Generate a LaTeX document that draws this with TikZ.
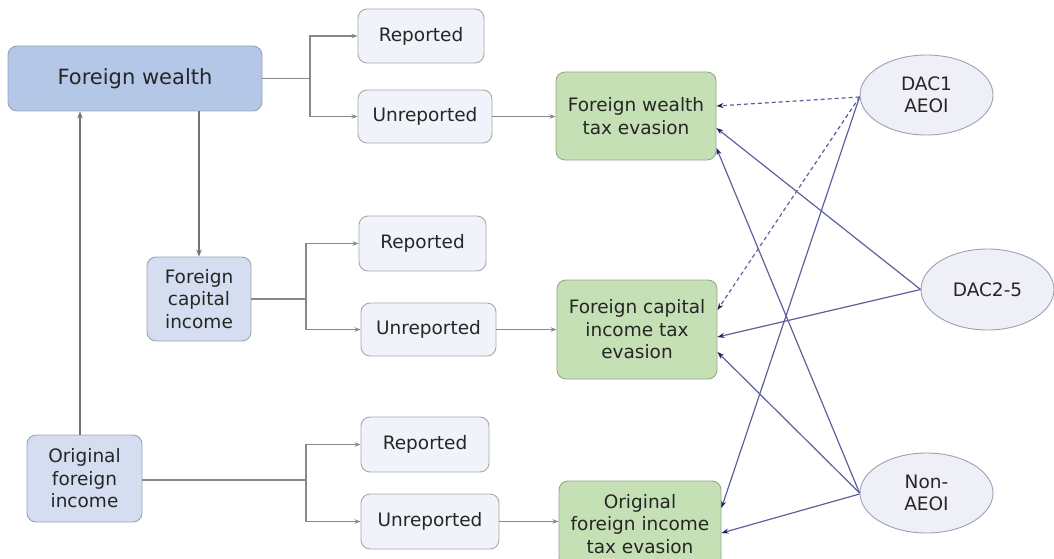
\documentclass[tikz,border=0pt]{standalone}
\usepackage{fontspec}
\setmainfont{DejaVu Sans}
\usetikzlibrary{shapes.geometric,arrows.meta}
\definecolor{txt}{HTML}{262626}
\definecolor{lightfill}{HTML}{F0F3F9}
\definecolor{lightdraw}{HTML}{A8A8A8}
\definecolor{bluefill}{HTML}{D5DEF0}
\definecolor{fwfill}{HTML}{B4C7E7}
\definecolor{bluedraw}{HTML}{98A3B8}
\definecolor{greenfill}{HTML}{C5E0B4}
\definecolor{greendraw}{HTML}{93A888}
\definecolor{ellfill}{HTML}{EFF0F7}
\definecolor{elldraw}{HTML}{9AA0B8}
\definecolor{gl}{HTML}{888888}
\definecolor{bl}{HTML}{5E609E}
\definecolor{tipc}{HTML}{1F1F5F}
\tikzset{
  base/.style={rounded corners=9pt, align=center, text=txt, inner sep=0pt,
    font=\fontsize{18.5}{22.5}\selectfont, line width=0.9pt},
  lightbox/.style={base, fill=lightfill, draw=lightdraw},
  bluebox/.style={base, fill=bluefill, draw=bluedraw},
  fwbox/.style={base, fill=fwfill, draw=bluedraw, font=\fontsize{21}{25}\selectfont},
  greenbox/.style={base, fill=greenfill, draw=greendraw},
  ell/.style={ellipse, fill=ellfill, draw=elldraw, line width=0.9pt, inner sep=0pt,
    align=center, text=txt, font=\fontsize{18.5}{22.5}\selectfont},
  gline/.style={draw=gl, line width=1.3pt},
  garrow/.style={gline, -{Stealth[length=6pt,width=4.5pt]}},
  darrow/.style={draw=gl!85!black, line width=1.5pt, -{Stealth[length=7pt,width=5.5pt,fill=black!80]}},
  barrow/.style={draw=bl, line width=1.2pt, -{Stealth[length=7pt,width=5pt,color=tipc]}},
  bdash/.style={barrow, dash pattern=on 4pt off 3pt},
}
\begin{document}
\begin{tikzpicture}[x=1pt,y=-1pt]
\useasboundingbox (0,0) rectangle (1054,559);
\begin{scope}
\clip (0,0) rectangle (1054,559);
% left column
\node[fwbox, minimum width=254pt, minimum height=65pt] (fw) at (135,78.5) {Foreign wealth};
\node[bluebox, minimum width=104pt, minimum height=84pt] (fci) at (199,299) {Foreign\\capital\\income};
\node[bluebox, minimum width=115pt, minimum height=87pt] (ofi) at (84.5,478.5) {Original\\foreign\\income};
% reported / unreported
\node[lightbox, minimum width=126pt, minimum height=54pt] (r1) at (421,36) {Reported};
\node[lightbox, minimum width=134pt, minimum height=53pt] (u1) at (425,116.5) {Unreported};
\node[lightbox, minimum width=127pt, minimum height=55pt] (r2) at (422.5,243.5) {Reported};
\node[lightbox, minimum width=135pt, minimum height=53pt] (u2) at (428.5,329.5) {Unreported};
\node[lightbox, minimum width=128pt, minimum height=55pt] (r3) at (425,444.5) {Reported};
\node[lightbox, minimum width=138pt, minimum height=55pt] (u3) at (430,521.5) {Unreported};
% green
\node[greenbox, minimum width=160pt, minimum height=88pt] (g1) at (636,116) {Foreign wealth\\tax evasion};
\node[greenbox, minimum width=160pt, minimum height=99pt] (g2) at (637,329.5) {Foreign capital\\income tax\\evasion};
\node[greenbox, minimum width=162pt, minimum height=86pt] (g3) at (640,524) {Original\\foreign income\\tax evasion};
% ellipses
\node[ell, minimum width=133pt, minimum height=80pt] (dac1) at (926.5,95) {DAC1\\AEOI};
\node[ell, minimum width=133pt, minimum height=81pt] (dac2) at (987.5,289.5) {DAC2-5};
\node[ell, minimum width=133pt, minimum height=80pt] (non) at (926.5,493) {Non-\\AEOI};
% branches
\coordinate (b1) at (310,78.5);
\coordinate (b2) at (306,299);
\coordinate (b3) at (306,480);
\draw[gline] (fw.east) -- (b1);
\draw[garrow] (b1) |- (r1.west);
\draw[garrow] (b1) |- (u1.west);
\draw[gline] (fci.east) -- (b2);
\draw[garrow] (b2) |- (r2.west);
\draw[garrow] (b2) |- (u2.west);
\draw[gline] (ofi.east |- b3) -- (b3);
\draw[garrow] (b3) |- (r3.west);
\draw[garrow] (b3) |- (u3.west);
% unreported -> green
\draw[garrow] (u1.east) -- (u1.east -| g1.west);
\draw[garrow] (u2.east) -- (u2.east -| g2.west);
\draw[garrow] (u3.east) -- (u3.east -| g3.west);
% verticals
\draw[darrow] (fw.south -| fci.north) -- (fci.north);
\draw[darrow] ([xshift=-4.5pt]ofi.north) -- ([xshift=-4.5pt]ofi.north |- fw.south);
% blue connectors
\draw[bdash] ([yshift=-2pt]dac1.west) -- ([yshift=10pt]g1.east);
\draw[bdash] ([yshift=-2pt]dac1.west) -- ([yshift=19.5pt]g2.east);
\draw[barrow] ([yshift=-2pt]dac1.west) -- ([yshift=16pt]g3.east);
\draw[barrow] (dac2.west) -- ([yshift=-12pt]g1.east);
\draw[barrow] (dac2.west) -- ([yshift=-7.5pt]g2.east);
\draw[barrow] (non.west) -- ([yshift=-32pt]g1.east);
\draw[barrow] (non.west) -- ([yshift=-22.5pt]g2.east);
\draw[barrow] ([yshift=-1pt]non.west) -- ([yshift=-9pt]g3.east);
\end{scope}
\end{tikzpicture}
\end{document}
